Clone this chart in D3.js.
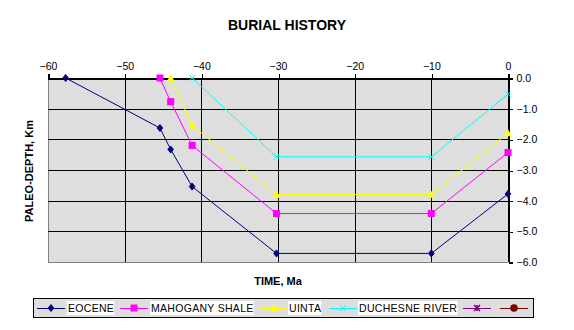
<!DOCTYPE html>
<html><head><meta charset="utf-8">
<script src="https://cdn.jsdelivr.net/npm/d3@7"></script>
<style>body{margin:0;background:#fff;} svg{display:block;font-family:Arial,"Liberation Sans",sans-serif;}</style>
</head><body><svg id="c" width="574" height="330"></svg>
<script>
const xTicks = [-60, -50, -40, -30, -20, -10, 0];
const yTicks = [0, -1, -2, -3, -4, -5, -6];
const seriesNames = ["EOCENE", "MAHOGANY SHALE", "UINTA", "DUCHESNE RIVER", "", ""];
const seriesColors = ["#000080", "#ff00ff", "#ffff00", "#00ffff", "#800080", "#800000"];
const seriesMarkers = ["diamond", "square", "triangle", "x", "star", "circle"];
const eoceneTime = [-57.7, -45.4, -44.0, -41.2, -30.2, -10.0, 0];
const eoceneDepth = [0, -1.63, -2.33, -3.54, -5.72, -5.72, -3.78];
const mahoganyTime = [-45.4, -44.0, -41.2, -30.2, -10.0, 0];
const mahoganyDepth = [0, -0.77, -2.2, -4.42, -4.42, -2.43];
const uintaTime = [-44.0, -41.2, -30.2, -10.0, 0];
const uintaDepth = [0, -1.54, -3.8, -3.8, -1.8];
const duchesneTime = [-41.2, -30.2, -10.0, 0];
const duchesneDepth = [0, -2.57, -2.57, -0.53];
const series5Time = [], series5Depth = [];
const series6Time = [], series6Depth = [];

const allTimes = [eoceneTime, mahoganyTime, uintaTime, duchesneTime, series5Time, series6Time];
const allDepths = [eoceneDepth, mahoganyDepth, uintaDepth, duchesneDepth, series5Depth, series6Depth];

const svg = d3.select("#c");
const L = 48, R = 508, T = 78, B = 262;
const x = d3.scaleLinear().domain([-60, 0]).range([L, R]);
const y = d3.scaleLinear().domain([0, -6]).range([T, B]);

svg.append("rect").attr("x", L).attr("y", T).attr("width", R - L).attr("height", B - T).attr("fill", "#dedede");

// gridlines
const g = svg.append("g").attr("shape-rendering", "crispEdges");
g.selectAll(".vg").data(xTicks).enter().append("line")
  .attr("x1", d => Math.round(x(d)) + 0.5).attr("x2", d => Math.round(x(d)) + 0.5)
  .attr("y1", T).attr("y2", B).attr("stroke", d => d === -60 ? "#808080" : "#000");
g.selectAll(".hg").data(yTicks).enter().append("line")
  .attr("y1", d => Math.round(y(d)) + 0.5).attr("y2", d => Math.round(y(d)) + 0.5)
  .attr("x1", L).attr("x2", R).attr("stroke", d => d === -6 ? "#808080" : "#000");

// axes
const xa = svg.append("g").attr("transform", `translate(0,${T + 0.5})`)
  .call(d3.axisTop(x).tickValues(xTicks).tickSize(5).tickPadding(4).tickFormat(d3.format("d")));
const ya = svg.append("g").attr("transform", `translate(${R + 0.5},0)`)
  .call(d3.axisRight(y).tickValues(yTicks).tickSize(4).tickPadding(4).tickFormat(d => d3.format(".1f")(d)));
[xa, ya].forEach(a => {
  a.attr("shape-rendering", "crispEdges");
  a.select(".domain").attr("stroke", "#000");
  a.selectAll(".tick line").attr("stroke", "#000");
  a.selectAll("text").attr("fill", "#000").attr("font-size", "10.5px").attr("font-family", "Arial, 'Liberation Sans', sans-serif");
});
xa.selectAll(".tick line").attr("transform", "translate(0.5,0)");
ya.selectAll(".tick line").attr("transform", "translate(0,0.5)");

function marker(sel, type, color, s) {
  if (type === "diamond") {
    sel.append("path").attr("d", `M0,${-s}L${s * 0.8},0L0,${s}L${-s * 0.8},0Z`).attr("fill", color).attr("stroke", color);
  } else if (type === "square") {
    sel.append("rect").attr("x", -s).attr("y", -s).attr("width", 2 * s).attr("height", 2 * s).attr("fill", color);
  } else if (type === "triangle") {
    sel.append("path").attr("d", `M0,${-s * 1.1}L${s * 1.1},${s * 0.9}L${-s * 1.1},${s * 0.9}Z`).attr("fill", color);
  } else if (type === "x") {
    sel.append("path").attr("d", `M${-s},${-s}L${s},${s}M${-s},${s}L${s},${-s}`).attr("stroke", color).attr("stroke-width", 1).attr("fill", "none");
  } else if (type === "star") {
    sel.append("path").attr("d", `M${-s},${-s}L${s},${s}M${-s},${s}L${s},${-s}M0,${-s}L0,${s}`).attr("stroke", color).attr("stroke-width", 1.5).attr("fill", "none");
  } else if (type === "circle") {
    sel.append("circle").attr("r", s).attr("fill", color);
  }
}
const markerSize = [3.5, 3.5, 3.5, 3, 3, 3.8];

// series
allTimes.forEach((ts, i) => {
  const pts = ts.map((t, j) => [t, allDepths[i][j]]);
  if (!pts.length) return;
  svg.append("path").datum(pts)
    .attr("d", d3.line().x(d => x(d[0])).y(d => y(d[1])))
    .attr("fill", "none").attr("stroke", seriesColors[i]).attr("stroke-width", 1);
  pts.forEach(p => {
    const m = svg.append("g").attr("transform", `translate(${x(p[0])},${y(p[1])})`);
    marker(m, seriesMarkers[i], seriesColors[i], markerSize[i]);
  });
});

// titles
svg.append("text").attr("x", 287).attr("y", 30).attr("text-anchor", "middle")
  .attr("font-size", "14px").attr("font-weight", "bold").text("BURIAL HISTORY");
svg.append("text").attr("x", 278).attr("y", 285).attr("text-anchor", "middle")
  .attr("font-size", "11px").attr("font-weight", "bold").text("TIME, Ma");
svg.append("text").attr("transform", "translate(33,171) rotate(-90)").attr("text-anchor", "middle")
  .attr("font-size", "11px").attr("font-weight", "bold").text("PALEO-DEPTH, Km");

// legend
const lg = svg.append("g");
lg.append("rect").attr("x", 33.5).attr("y", 298.5).attr("width", 500).attr("height", 19)
  .attr("fill", "#dedede").attr("stroke", "#000").attr("stroke-width", 1).attr("shape-rendering", "crispEdges");
const legLineX = [37, 120, 260, 329, 463, 500];
const legTextX = [68, 151, 289, 359, 0, 0];
const ly = 308;
seriesNames.forEach((name, i) => {
  const x0 = legLineX[i];
  lg.append("line").attr("x1", x0).attr("x2", x0 + 28).attr("y1", ly + 0.5).attr("y2", ly + 0.5)
    .attr("stroke", seriesColors[i]).attr("stroke-width", 1);
  const m = lg.append("g").attr("transform", `translate(${x0 + 14},${ly})`);
  marker(m, seriesMarkers[i], seriesColors[i], markerSize[i]);
  if (name) {
    const t = lg.append("text").attr("x", legTextX[i]).attr("y", ly + 4).attr("font-size", "10.5px")
      .attr("letter-spacing", "0.3px").text(name);
    const bb = t.node().getBBox();
    lg.insert("rect", () => t.node()).attr("x", bb.x - 1).attr("y", ly - 7).attr("width", bb.width + 1).attr("height", 14).attr("fill", "#fff");
  }
});
</script></body></html>
